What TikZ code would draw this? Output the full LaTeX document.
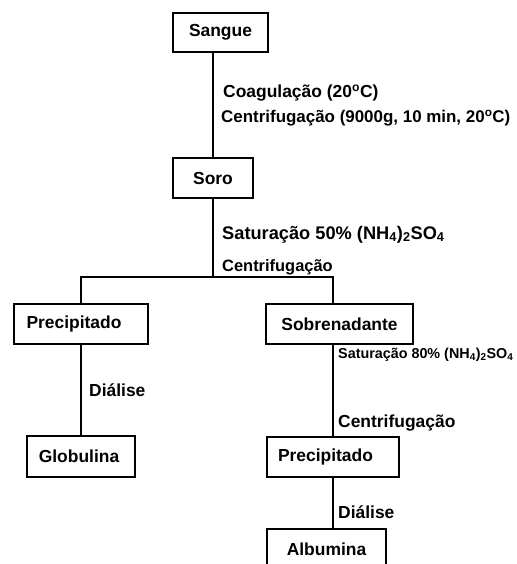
\documentclass[tikz,border=0pt]{standalone}
\usepackage{fontspec}
\setmainfont{Liberation Sans}
\begin{document}
\begin{tikzpicture}[x=1bp,y=-1bp,
  box/.style={draw,line width=2bp,inner sep=0pt,font=\fontsize{17.5}{20}\bfseries\selectfont},
  lbl/.style={anchor=base west,inner sep=0pt,font=\fontsize{17.5}{20}\bfseries\selectfont},
  lblbig/.style={lbl,font=\fontsize{18.3}{21}\bfseries\selectfont},
  lblmid/.style={lbl,font=\fontsize{16.5}{19}\bfseries\selectfont},
  lblline/.style={lbl,font=\fontsize{17}{19}\bfseries\selectfont},
  small/.style={lbl,font=\fontsize{14.4}{17}\bfseries\selectfont},
  conn/.style={line width=2bp}]
\useasboundingbox (0,0) rectangle (517,564);
\clip (0,0) rectangle (517,564);
\node[box,minimum width=95bp,minimum height=39bp] (sangue) at (220.5,32.5) {Sangue};
\node[box,minimum width=80bp,minimum height=40bp] (soro) at (213,178) {Soro};
\node[box,minimum width=134bp,minimum height=40bp] (prec1) at (81,324) {Precipitado\hspace*{14bp}};
\node[box,minimum width=147bp,minimum height=40bp] (sob) at (339.5,324) {Sobrenadante};
\node[box,minimum width=108bp,minimum height=41bp] (glob) at (81,456.5) {Globulina\hspace*{4bp}};
\node[box,minimum width=132bp,minimum height=40bp] (prec2) at (333,457) {Precipitado\hspace*{15bp}};
\node[box,minimum width=119bp,minimum height=40bp] (alb) at (326.5,549) {Albumina};
\coordinate (junc) at (213,277);
\draw[conn] (sangue.south -| soro.north) -- (soro.north);
\draw[conn] (soro.south) -- (junc);
\draw[conn] (prec1.north -| glob.north) |- (junc) -| (sob.north -| prec2.north);
\draw[conn] (prec1.south -| glob.north) -- (glob.north);
\draw[conn] (sob.south -| prec2.north) -- (prec2.north);
\draw[conn] (prec2.south) -- (prec2.south |- alb.north);
\node[lbl] (l1) at (223,98) {Coagulação (20\textsuperscript{o}C)};
\node[lblline] (l2) at (221,123) {Centrifugação (9000g, 10 min, 20\textsuperscript{o}C)};
\node[lblbig] (l3) at (222,239) {Saturação 50\% (NH\textsubscript{4})\textsubscript{2}SO\textsubscript{4}};
\node[lblmid] (l4) at (222,271) {Centrifugação};
\node[small] (l5) at (338,358) {Saturação 80\% (NH\textsubscript{4})\textsubscript{2}SO\textsubscript{4}};
\node[lbl] (l6) at (89,396) {Diálise};
\node[lbl] (l7) at (338,427) {Centrifugação};
\node[lbl] (l8) at (338,518) {Diálise};
\end{tikzpicture}
\end{document}
